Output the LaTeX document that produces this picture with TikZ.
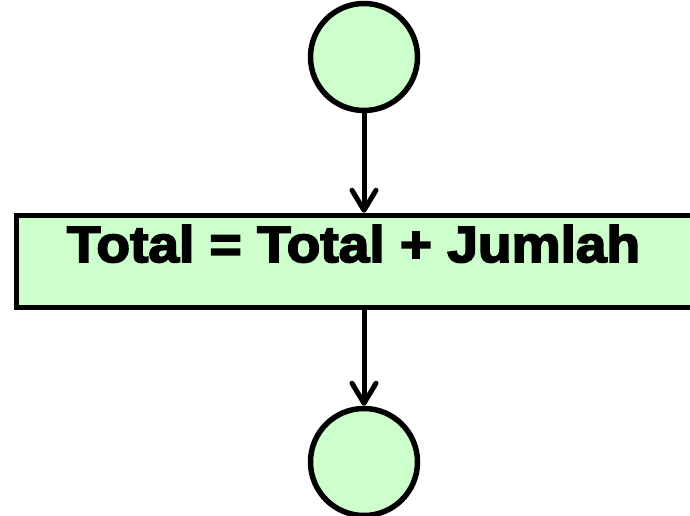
\documentclass[tikz,border=0pt]{standalone}
\usepackage{fontspec}
\newfontfamily\heavy{Liberation Sans}[BoldFeatures={FakeBold=3.5,FakeStretch=1.08}]
\usetikzlibrary{arrows.meta}
\definecolor{paleg}{HTML}{CCFFCC}
\tikzset{
  x=1pt,y=-1pt,
  startend/.style={circle,draw=black,fill=paleg,line width=5.5pt,minimum size=107pt,inner sep=0pt},
  procbox/.style={rectangle,draw=black,fill=paleg,line width=5.5pt,minimum width=703.5pt,minimum height=92pt,inner sep=0pt},
  flow/.style={line width=5pt,-{Straight Barb[length=20pt,width=24pt,round]}},
  lbl/.style={font=\heavy\bfseries\fontsize{51}{51}\selectfont,inner sep=0pt,anchor=base}
}
\begin{document}
\begin{tikzpicture}
\useasboundingbox (0,0) rectangle (690,516);
\clip (0,0) rectangle (690,516);
\node[startend] (c1) at (364,57) {};
\node[procbox] (box) at (368.25,261.5) {};
\node[lbl] (t) at (353.5,262) {Total = Total + Jumlah};
\node[startend] (c2) at (364,462) {};
\draw[flow] (c1.south) -- (c1.south |- box.north);
\draw[flow] (c2.north |- box.south) -- (c2.north);
\end{tikzpicture}
\end{document}
